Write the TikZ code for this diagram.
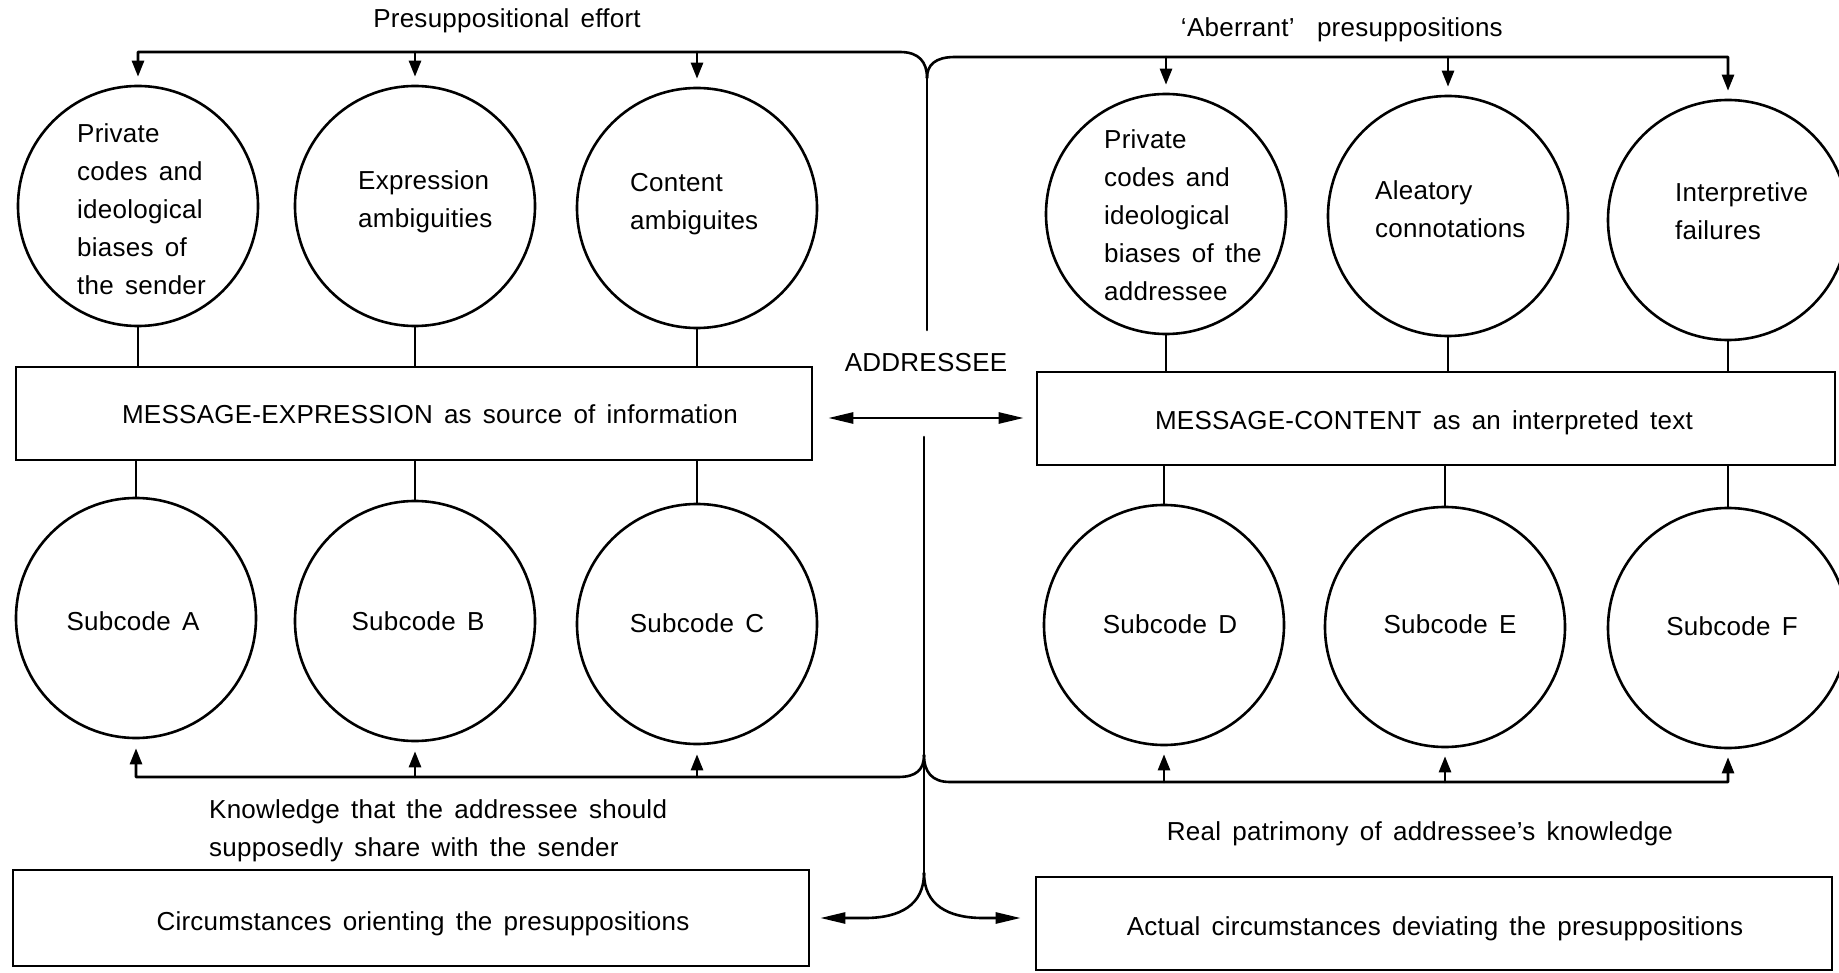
\documentclass[tikz,border=0pt]{standalone}
\usepackage{fontspec}
\setmainfont{Liberation Sans}[LetterSpace=1,WordSpace=1.5]
\usetikzlibrary{arrows.meta}
\begin{document}
\begin{tikzpicture}[x=1pt,y=-1pt,
  ln/.style={line width=2.6pt, line cap=round, line join=round},
  circ/.style={circle, draw, line width=2.6pt, minimum size=240pt, inner sep=0pt},
  boxn/.style={rectangle, draw, line width=2.6pt, inner sep=0pt},
  txt/.style={inner sep=0pt, font=\fontsize{26}{38}\selectfont},
  mtxt/.style={txt, align=left, anchor=north west},
  sarr/.style={ln, -{Triangle[length=16pt,width=12pt]}},
  larr/.style={ln, -{Triangle[length=25pt,width=11pt]}},
]
\path[use as bounding box, fill=white] (0,0) rectangle (1839,973);

% upper circles
\node[circ] (c1) at (138,206) {};
\node[circ] (c2) at (415,206) {};
\node[circ] (c3) at (697,208) {};
\node[circ] (c4) at (1166,214) {};
\node[circ] (c5) at (1448,216) {};
\node[circ] (c6) at (1728,220) {};
% lower circles
\node[circ] (s1) at (136,618) {};
\node[circ] (s2) at (415,621) {};
\node[circ] (s3) at (697,624) {};
\node[circ] (s4) at (1164,625) {};
\node[circ] (s5) at (1445,627) {};
\node[circ] (s6) at (1728,628) {};
% boxes
\node[boxn, minimum width=796pt, minimum height=93pt] (b1) at (414,413.5) {};
\node[boxn, minimum width=798pt, minimum height=93pt] (b2) at (1436,418.5) {};
\node[boxn, minimum width=796pt, minimum height=96pt] (b3) at (411,918) {};
\node[boxn, minimum width=796pt, minimum height=93pt] (b4) at (1434,923.5) {};

% texts
\node[txt, anchor=base] (lab1) at (507,28) {Presuppositional effort};
\node[txt, anchor=base east] (lab2) at (1503,37) {‘Aberrant’\ \ presuppositions};
\node[mtxt] (t1) at (77,123.4) {Private\\codes and\\ideological\\biases of\\the sender};
\node[mtxt] (t2) at (358,170.4) {Expression\\ambiguities};
\node[mtxt] (t3) at (630,173.4) {Content\\ambiguites};
\node[mtxt] (t4) at (1104,129.4) {Private\\codes and\\ideological\\biases of the\\addressee};
\node[mtxt] (t5) at (1375,180.4) {Aleatory\\connotations};
\node[mtxt] (t6) at (1675,182.4) {Interpretive\\failures};
\node[txt, anchor=base] (addr) at (926,372) {ADDRESSEE};
\node[txt, anchor=base] (tb1) at (430,423) {MESSAGE-EXPRESSION as source of information};
\node[txt, anchor=base] (tb2) at (1424,429) {MESSAGE-CONTENT as an interpreted text};
\node[txt, anchor=base] (sa) at (133,630) {Subcode A};
\node[txt, anchor=base] (sb) at (418,630) {Subcode B};
\node[txt, anchor=base] (sc) at (697,632) {Subcode C};
\node[txt, anchor=base] (sd) at (1170,633) {Subcode D};
\node[txt, anchor=base] (se) at (1450,633) {Subcode E};
\node[txt, anchor=base] (sf) at (1732,635) {Subcode F};
\node[mtxt] (know) at (209,799.5) {Knowledge that the addressee should\\supposedly share with the sender};
\node[txt, anchor=base] (real) at (1420,840) {Real patrimony of addressee’s knowledge};
\node[txt, anchor=base] (tb3) at (423,930) {Circumstances orienting the presuppositions};
\node[txt, anchor=base] (tb4) at (1435,935) {Actual circumstances deviating the presuppositions};

% junction coordinates
\coordinate (jt) at (927,78);
\coordinate (jtm) at (927,330);
\coordinate (topL) at (0,52);
\coordinate (topR) at (0,57);
\coordinate (mid) at (925,418);
\coordinate (jm) at (924,437);
\coordinate (jb) at (924,755);
\coordinate (js) at (924,873);
\coordinate (ab) at (0,918);
\coordinate (botL) at (0,777);
\coordinate (botR) at (0,782);

% top brace
\draw[ln] (jt) -- (jtm);
\draw[sarr, shorten >=8pt] (jt) .. controls (927,62) and (919,52) .. (900,52) -- (c1.north |- topL) -- (c1.north);
\draw[sarr, shorten >=8pt] (c2.north |- topL) -- (c2.north);
\draw[sarr, shorten >=8pt] (c3.north |- topL) -- (c3.north);
\draw[sarr, shorten >=8pt] (jt) .. controls (927,65) and (935,57) .. (955,57) -- (c6.north |- topR) -- (c6.north);
\draw[sarr, shorten >=8pt] (c4.north |- topR) -- (c4.north);
\draw[sarr, shorten >=8pt] (c5.north |- topR) -- (c5.north);

% circles to boxes
\foreach \c/\b in {c1/b1,c2/b1,c3/b1,c4/b2,c5/b2,c6/b2}
  \draw[ln] (\c.south) -- (\c.south |- \b.north);
\foreach \s/\b in {s1/b1,s2/b1,s3/b1,s4/b2,s5/b2,s6/b2}
  \draw[ln] (\b.south -| \s.north) -- (\s.north);

% double arrow
\draw[ln, {Triangle[length=25pt,width=11pt]}-{Triangle[length=25pt,width=11pt]}, shorten <=15pt, shorten >=12pt] (b1.east |- mid) -- (b2.west |- mid);

% lower stem
\draw[ln] (jm) -- (js);
\draw[larr, shorten >=10pt] (js) .. controls (924,905) and (900,918) .. (865,918) -- (b3.east |- ab);
\draw[larr, shorten >=14pt] (js) .. controls (924,905) and (948,918) .. (983,918) -- (b4.west |- ab);

% bottom brace
\draw[sarr, shorten >=9pt] (jb) .. controls (924,770) and (916,777) .. (898,777) -- (s1.south |- botL) -- (s1.south);
\draw[sarr, shorten >=9pt] (s2.south |- botL) -- (s2.south);
\draw[sarr, shorten >=9pt] (s3.south |- botL) -- (s3.south);
\draw[sarr, shorten >=8pt] (jb) .. controls (924,772) and (932,782) .. (950,782) -- (s6.south |- botR) -- (s6.south);
\draw[sarr, shorten >=8pt] (s4.south |- botR) -- (s4.south);
\draw[sarr, shorten >=8pt] (s5.south |- botR) -- (s5.south);
\end{tikzpicture}
\end{document}
